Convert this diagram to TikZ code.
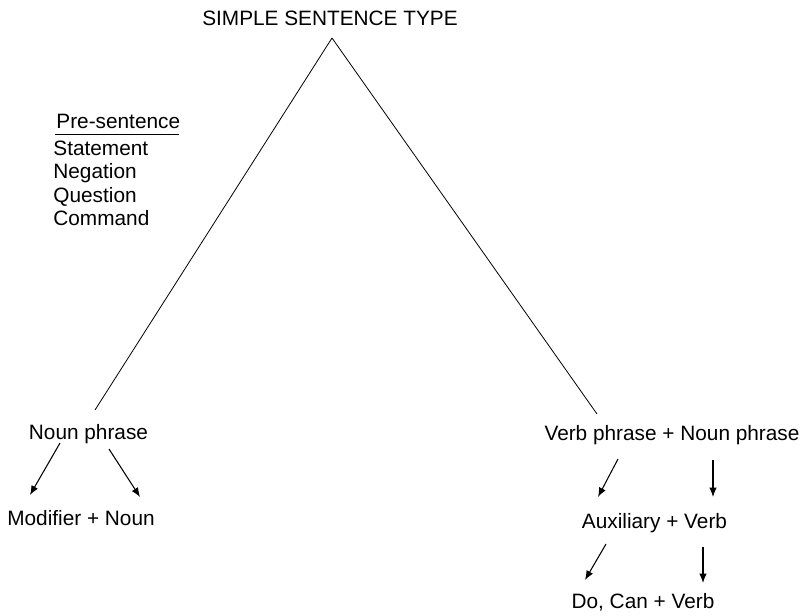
\documentclass[tikz,border=0pt]{standalone}
\usepackage{fontspec}
\setmainfont{Liberation Sans}
\usetikzlibrary{arrows.meta,calc,positioning}
\tikzset{>={Latex[length=7pt,width=5.5pt]}}
\tikzset{txt/.style={inner sep=0pt, anchor=base, font=\fontsize{15.6}{18}\selectfont}}
\tikzset{lst/.style={txt, anchor=base west}}
\tikzset{arr/.style={->, line width=0.8pt}}

\begin{document}
\begin{tikzpicture}[x=0.75pt,y=-0.75pt,line width=0.6pt]
      \useasboundingbox (0,0) rectangle (806,615);
      \node[txt] (title) at (330,25) {SIMPLE SENTENCE TYPE};
      \coordinate (apex) at ($(title.base)+(2,13)$);
      % pre-sentence list
      \node[lst] (pre) at (56,128) {Pre-sentence};
      \draw ($(pre.base west)+(-1,6)$) -- ($(pre.base east)+(-2,6)$);
      \node[lst] (stm) at (53,155) {Statement};
      \node[lst] (neg) at (53,178.5) {Negation};
      \node[lst] (qst) at (53,202) {Question};
      \node[lst] (cmd) at (53,225.5) {Command};
      % phrases
      \node[txt] (np) at (88.5,439) {Noun phrase};
      \node[txt] (mod) at (81,525) {Modifier + Noun};
      \node[txt] (vp) at (672,440) {Verb phrase + Noun phrase};
      \node[txt] (aux) at (654.5,528) {Auxiliary + Verb};
      \node[txt] (dcv) at (643,608) {Do, Can + Verb};
      \draw (apex) -- ($(np.base)+(6.5,-29)$);
      \draw (apex) -- ($(vp.base)+(-75,-26)$);
      \draw[arr] ($(np.base)+(-28.5,4)$) -- ($(mod.base)+(-51,-30)$);
      \draw[arr] ($(np.base)+(20.5,10)$) -- ($(mod.base)+(59,-28)$);
      \draw[arr] ($(vp.base)+(-54,19)$) -- ($(aux.base)+(-56.5,-31)$);
      \draw[arr] ($(vp.base)+(41,20)$) -- ($(aux.base)+(58.5,-31)$);
      \draw[arr] ($(aux.base)+(-48.5,16)$) -- ($(dcv.base)+(-58,-28)$);
      \draw[arr] ($(aux.base)+(48.5,19)$) -- ($(dcv.base)+(60,-25)$);
\end{tikzpicture}
\end{document}
